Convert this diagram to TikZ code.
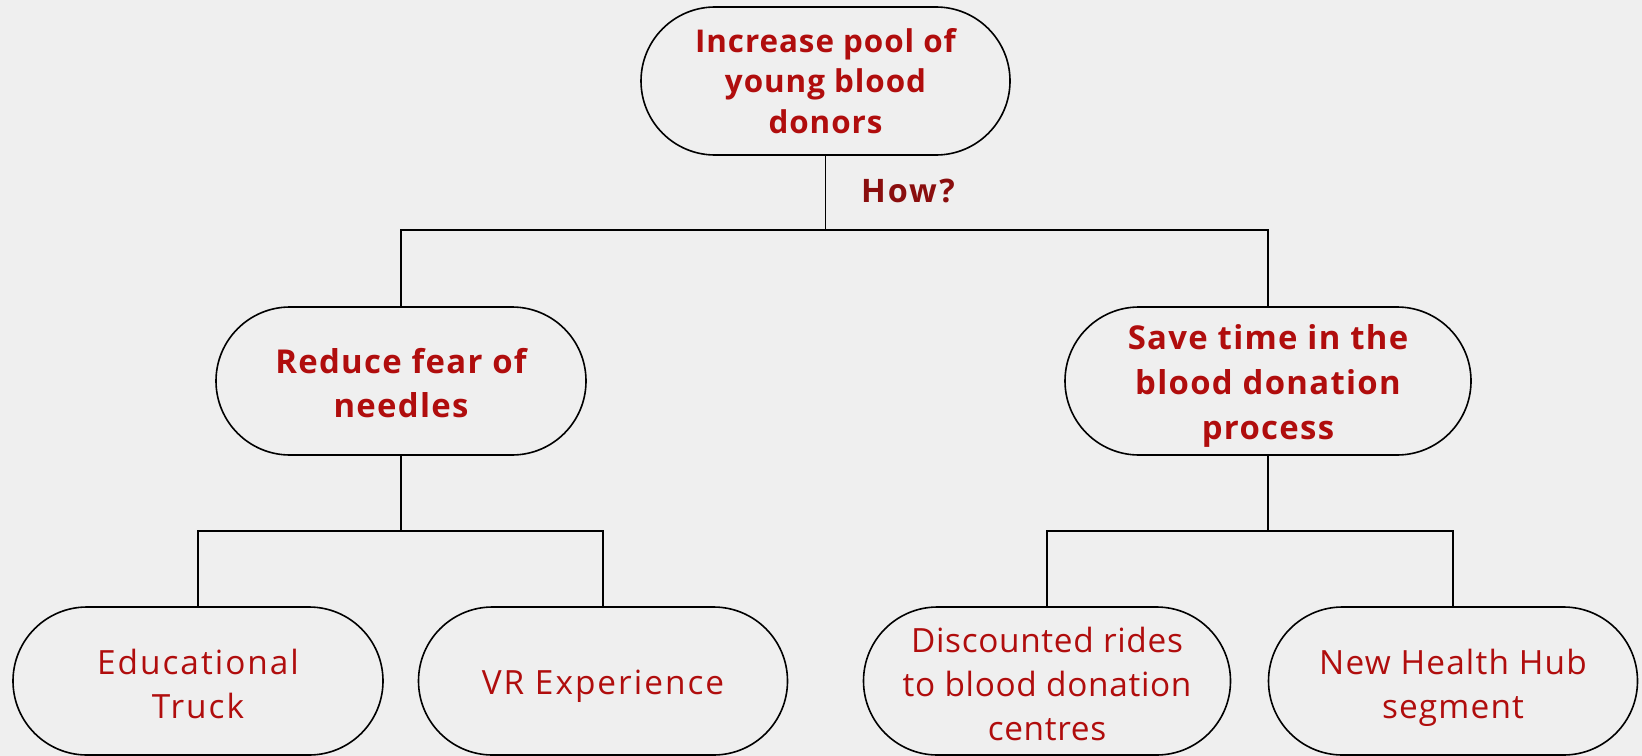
\documentclass[tikz,border=0pt]{standalone}
\usepackage{fontspec}
\setmainfont{Open Sans}
\definecolor{bg}{HTML}{EFEFEF}
\definecolor{txt}{HTML}{B00D0D}
\definecolor{how}{HTML}{8A0E0E}
\tikzset{
  pill/.style={draw=black, line width=1.6bp, rectangle, rounded corners=74bp,
    minimum height=148bp, inner sep=0pt, align=center, text=txt},
  tdown/.style={execute at begin node={\rule{0pt}{#1bp}}},
  toptxt/.style={font=\fontsize{31.5}{41}\selectfont\bfseries\addfontfeatures{LetterSpace=3}},
  midtxt/.style={font=\fontsize{33}{45}\selectfont\bfseries\addfontfeatures{LetterSpace=4}},
  lowtxt/.style={font=\fontsize{33.5}{44}\selectfont\addfontfeatures{LetterSpace=#1}},
  lowtxt/.default=6,
  conn/.style={draw=black, line width=1.6bp}
}
\begin{document}
\begin{tikzpicture}[x=1bp,y=-1bp]
\fill[bg] (0,0) rectangle (1642,756);
\useasboundingbox (0,0) rectangle (1642,756);

\node[pill, toptxt, minimum width=369bp] (top) at (825.5,81) {Increase pool of\\young blood\\donors};
\node[pill, midtxt, tdown=74, minimum width=370bp] (ml) at (401,381) {Reduce fear of\\needles};
\node[pill, midtxt, tdown=124, minimum width=406bp] (mr) at (1268,381) {Save time in the\\blood donation\\process};
\node[pill, lowtxt, tdown=75.5, minimum width=370bp] (bl1) at (198,681) {Educational\\Truck};
\node[pill, lowtxt, tdown=36, minimum width=369bp] (bl2) at (603,681) {VR Experience};
\node[pill, lowtxt=2, tdown=118.5, minimum width=367bp] (br1) at (1047,681) {Discounted rides\\to blood donation\\centres};
\node[pill, lowtxt=3.5, tdown=83.5, minimum width=369bp] (br2) at (1453,681) {New Health Hub\\segment};

\node[font=\fontsize{32.5}{40}\selectfont\bfseries\addfontfeatures{LetterSpace=6}, text=how] (how) at (908,191) {How?};

\coordinate (b1) at (825.5,230);
\coordinate (b2) at (401,531);
\coordinate (b3) at (1268,531);

\draw[conn] (top.south) -- (b1);
\draw[conn] (ml.north) |- (b1) -| (mr.north);
\draw[conn] (ml.south) -- (b2);
\draw[conn] (bl1.north) |- (b2) -| (bl2.north);
\draw[conn] (mr.south) -- (b3);
\draw[conn] (br1.north) |- (b3) -| (br2.north);
\end{tikzpicture}
\end{document}
